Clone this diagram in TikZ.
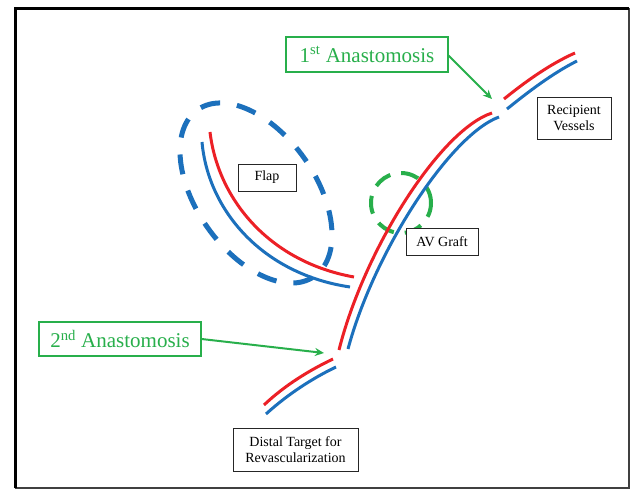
\documentclass[tikz,border=0pt]{standalone}
\usepackage{fontspec}
\setmainfont{Liberation Serif}
\usetikzlibrary{arrows.meta}
\definecolor{vred}{RGB}{236,32,38}
\definecolor{vblue}{RGB}{28,112,188}
\definecolor{vgreen}{RGB}{40,175,75}
\tikzset{
  vessel/.style={line width=3pt},
  blackbox/.style={draw=black!85, line width=0.9pt, fill=white, inner sep=0pt, align=center,
     font=\fontsize{14}{16.5}\selectfont},
  greenbox/.style={draw=vgreen, line width=1.1pt, fill=white, inner sep=0pt, align=center,
     text=vgreen, font=\fontsize{21}{24}\selectfont},
  greenarrow/.style={draw=vgreen, line width=2pt, -{Stealth[length=9pt,width=8pt]}},
}
\begin{document}
\begin{tikzpicture}[x=1pt,y=-1pt]
\useasboundingbox (0,0) rectangle (630,489);
% frame
\draw[black!75, line width=1.4pt] (629,8) -- (629,488) -- (15,488);
\draw[black, line width=3pt] (15,488) -- (15,8.5) -- (629,8.5);

% flap dashed ellipse
\draw[vblue, line width=5pt, dash pattern=on 20pt off 17pt, dash phase=6pt]
  (256,193) ellipse [x radius=59.5pt, y radius=101.7pt, rotate=35];
% AV graft dashed circle
\draw[vgreen, line width=4pt, dash pattern=on 18pt off 11pt]
  (401,203) circle [radius=30pt];

% recipient vessels
\draw[vessel, vred]  (504,99) .. controls (525,82) and (550,64) .. (575,53);
\draw[vessel, vblue] (507,109) .. controls (528,92) and (553,73) .. (577,61);
% AV graft
\draw[vessel, vred]  (492,113) .. controls (440,130) and (364,250) .. (339,350);
\draw[vessel, vblue] (499,117) .. controls (450,135) and (374,252) .. (348,349);
% flap vessels
\draw[vessel, vred]  (210,132) .. controls (218,200) and (270,262) .. (354,277);
\draw[vessel, vblue] (202,142) .. controls (208,210) and (262,274) .. (350,287);
% distal target vessels
\draw[vessel, vred]  (333,359) .. controls (310,370) and (285,385) .. (264,405);
\draw[vessel, vblue] (336,367) .. controls (313,378) and (288,394) .. (266,414);

% labels
\node[greenbox, minimum width=162pt, minimum height=35pt] (a1) at (367,54.5) {1\textsuperscript{st} Anastomosis};
\node[greenbox, minimum width=162pt, minimum height=34pt] (a2) at (120,339) {2\textsuperscript{nd} Anastomosis};
\node[blackbox, minimum width=74pt, minimum height=42pt] (rv) at (574,118) {Recipient\\Vessels};
\node[blackbox, minimum width=58pt, minimum height=27pt] (flap) at (267,177.5) {Flap};
\node[blackbox, minimum width=72pt, minimum height=27pt] (avg) at (442,241.5) {AV Graft};
\node[blackbox, minimum width=125pt, minimum height=43pt] (dt) at (295.5,449.5) {Distal Target for\\Revascularization};

% arrows
\coordinate (t1) at (492,99);
\coordinate (t2) at (324,353);
\draw[greenarrow] (a1.east) ++(0,1) -- (t1);
\draw[greenarrow] (a2.east) -- (t2);
\end{tikzpicture}
\end{document}
